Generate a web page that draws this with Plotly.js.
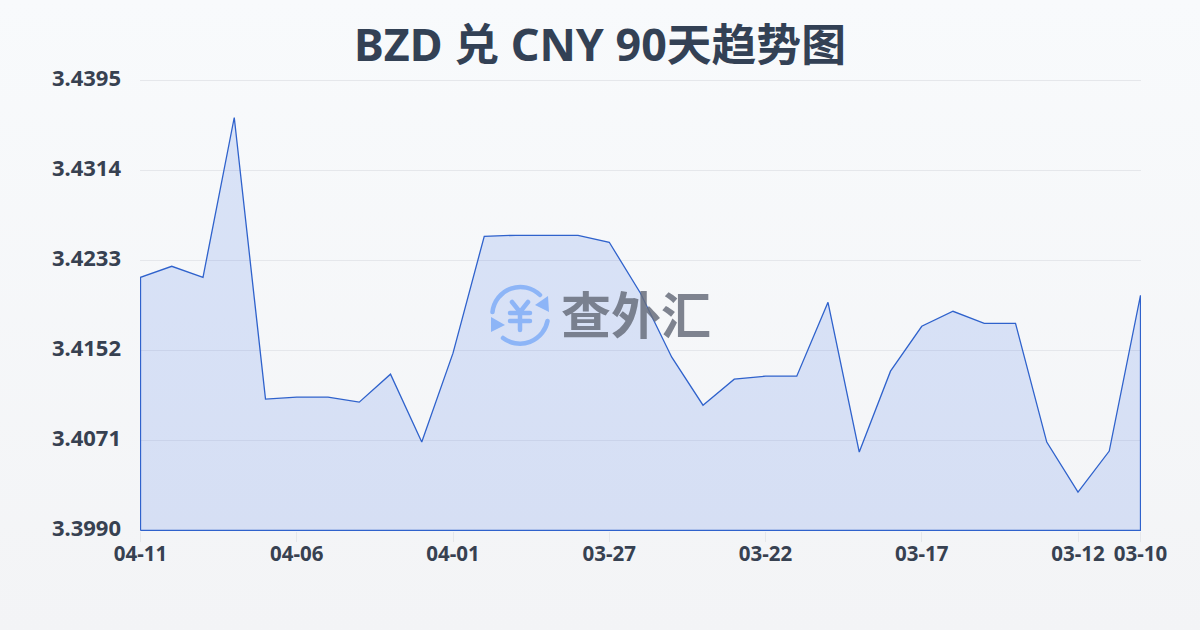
<!DOCTYPE html>
<html>
<head>
<meta charset="utf-8">
<script src="https://cdn.plot.ly/plotly-3.0.1.min.js"></script>
<style>
html,body{margin:0;padding:0;width:1200px;height:630px;overflow:hidden;background:linear-gradient(180deg,#f8fafc 0%,#f3f4f6 100%);}
#chart{width:1200px;height:630px;}
</style>
</head>
<body>
<div id="chart"></div>
<script>
const titleText = 'BZD 兑 CNY 90天趋势图';
const watermarkText = '查外汇';
const dates = ['04-11','04-10','04-09','04-08','04-07','04-06','04-05','04-04','04-03','04-02','04-01','03-31','03-30','03-29','03-28','03-27','03-26','03-25','03-24','03-23','03-22','03-21','03-20','03-19','03-18','03-17','03-16','03-15','03-14','03-13','03-12','03-11','03-10'];
const rates = [3.42179,3.42278,3.42179,3.43617,3.41082,3.41100,3.41100,3.41055,3.41307,3.40696,3.41496,3.42548,3.42557,3.42557,3.42557,3.42494,3.42035,3.41460,3.41028,3.41262,3.41289,3.41289,3.41954,3.40606,3.41334,3.41738,3.41873,3.41765,3.41765,3.40696,3.40246,3.40615,3.42017];
const yTicks = [3.3990,3.4071,3.4152,3.4233,3.4314,3.4395];
const xTickDates = ['04-11','04-06','04-01','03-27','03-22','03-17','03-12','03-10'];

const xIdx = dates.map((d,i)=>i);
const base = yTicks[0], top_ = yTicks[yTicks.length-1], last = dates.length-1;
const closedX = [0].concat(xIdx,[last,0]);
const closedY = [base].concat(rates,[base,base]);
const fontStack = '"Noto Sans","Noto Sans CJK SC",sans-serif';

const icon = `<svg xmlns="http://www.w3.org/2000/svg" width="64" height="64" viewBox="0 0 64 64">
<g fill="none" stroke="#8db5f7" stroke-width="4.5" stroke-linecap="round" stroke-linejoin="round">
<path d="M4.5 29 A28 28 0 0 1 52 12"/>
<path d="M59.5 38 A28 28 0 0 1 15 55"/>
<path d="M24 19 L32 29 L40 19 M32 29 V47 M22 30 H42 M22 38 H42" stroke-width="4.5"/>
</g>
<path d="M60 13 L61 29 L47 22 Z" fill="#8db5f7"/>
<path d="M3 34 L3 49 L17 42 Z" fill="#8db5f7"/>
</svg>`;

const traces = [{
  type:'scatter', mode:'lines', x:closedX, y:closedY,
  fill:'toself', fillcolor:'rgba(49,99,225,0.15)',
  line:{color:'#2f62cc',width:1.3,shape:'linear'},
  cliponaxis:false, hoverinfo:'skip', showlegend:false
}];

const layout = {
  width:1200, height:630,
  margin:{l:140,r:59,t:80,b:99,pad:0},
  paper_bgcolor:'rgba(0,0,0,0)', plot_bgcolor:'rgba(0,0,0,0)',
  font:{family:fontStack,color:'#374151'},
  title:{text:'<b>'+titleText+'</b>',x:0.5,xanchor:'center',y:0.928,yanchor:'middle',
         font:{size:44.8,color:'#334155',family:fontStack}},
  xaxis:{range:[-0.016,last+0.016],tickmode:'array',
    tickvals:xTickDates.map(d=>dates.indexOf(d)),ticktext:xTickDates.map(d=>'<b>'+d+'</b>'),
    showgrid:false,zeroline:false,showline:false,ticks:'outside',ticklen:10,tickwidth:1,tickcolor:'#e5e7eb',
    ticklabelstandoff:-6,
    tickfont:{size:20.5,color:'#374151',family:fontStack}},
  yaxis:{range:[3.398955,3.439545],tickmode:'array',
    tickvals:yTicks,ticktext:yTicks.map(v=>'<b>'+v.toFixed(4)+'</b>'),
    showgrid:true,gridcolor:'#e5e7eb',gridwidth:1,zeroline:false,showline:false,ticks:'',
    tickfont:{size:22,color:'#374151',family:fontStack},automargin:false,ticklabelstandoff:18,ticklabelshift:-2},
  shapes:[{type:'line',xref:'paper',x0:0,x1:1,yref:'y',y0:top_,y1:top_,line:{color:'#e5e7eb',width:1},layer:'below'}],
  images:[{source:'data:image/svg+xml;utf8,'+encodeURIComponent(icon),xref:'paper',yref:'paper',
    x:(488-140)/1001,y:1-(283-80)/451,sizex:64/1001,sizey:64/451,xanchor:'left',yanchor:'top',sizing:'stretch',layer:'above'}],
  annotations:[{text:'<b>'+watermarkText+'</b>',xref:'paper',yref:'paper',
    x:(636-140)/1001,y:1-(312-80)/451,xanchor:'center',yanchor:'middle',showarrow:false,
    font:{size:50,color:'rgba(105,110,125,0.85)',family:'"Noto Sans CJK SC"'}}]
};
Plotly.newPlot('chart',traces,layout,{displayModeBar:false,staticPlot:true});
</script>
</body>
</html>
